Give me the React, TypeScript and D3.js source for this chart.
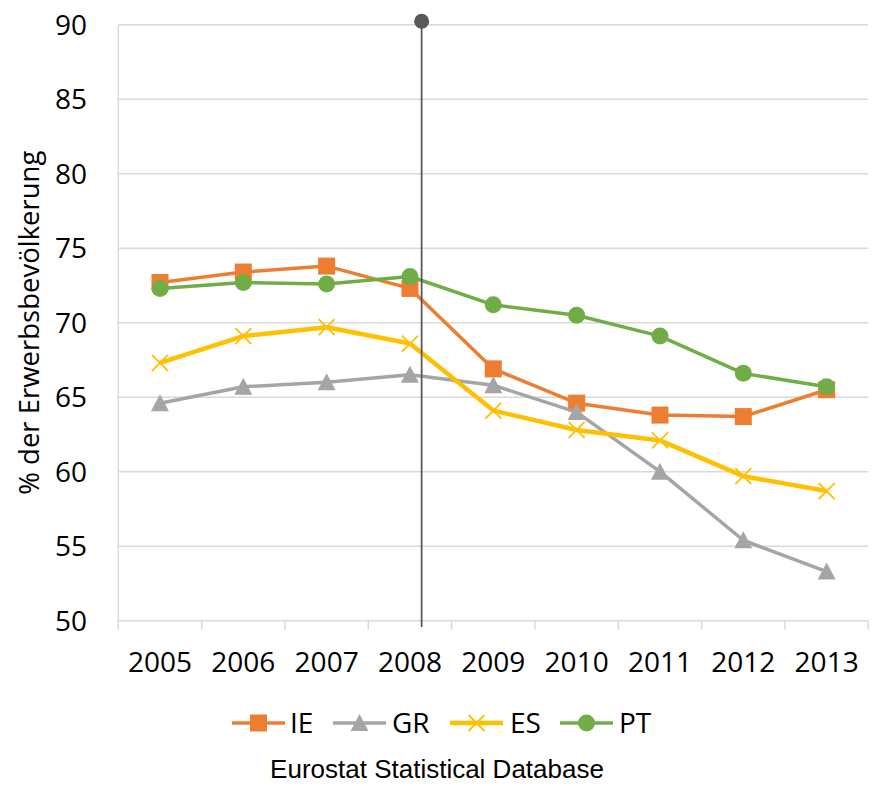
import React from "react";
import * as d3 from "d3";

const years = [2005, 2006, 2007, 2008, 2009, 2010, 2011, 2012, 2013];
const IE = [72.7, 73.4, 73.8, 72.3, 66.9, 64.6, 63.8, 63.7, 65.5];
const GR = [64.6, 65.7, 66.0, 66.5, 65.8, 64.0, 60.0, 55.4, 53.3];
const ES = [67.3, 69.1, 69.7, 68.6, 64.1, 62.8, 62.1, 59.7, 58.7];
const PT = [72.3, 72.7, 72.6, 73.1, 71.2, 70.5, 69.1, 66.6, 65.7];
const yTicks = [50, 55, 60, 65, 70, 75, 80, 85, 90];
const markerYear = 2008.14;
const yTitle = "% der Erwerbsbevölkerung";
const source = "Eurostat Statistical Database";

type Shape = "square" | "triangle" | "x" | "circle";
const series: { name: string; values: number[]; color: string; shape: Shape; width: number }[] = [
  { name: "IE", values: IE, color: "#ED7D31", shape: "square", width: 3.5 },
  { name: "GR", values: GR, color: "#A5A5A5", shape: "triangle", width: 3.5 },
  { name: "ES", values: ES, color: "#FFC000", shape: "x", width: 4.5 },
  { name: "PT", values: PT, color: "#70AD47", shape: "circle", width: 3.5 },
];

const FONT = "'Open Sans', 'Noto Sans', sans-serif";

function Marker({ shape, color, cx, cy }: { shape: Shape; color: string; cx: number; cy: number }) {
  if (shape === "square") {
    return <rect x={cx - 8.5} y={cy - 8.5} width={17} height={17} fill={color} />;
  }
  if (shape === "circle") {
    return <circle cx={cx} cy={cy} r={8.5} fill={color} />;
  }
  if (shape === "triangle") {
    return <path d={`M${cx},${cy - 9}L${cx + 9},${cy + 8}L${cx - 9},${cy + 8}Z`} fill={color} />;
  }
  return (
    <path
      d={`M${cx - 8},${cy - 8}L${cx + 8},${cy + 8}M${cx - 8},${cy + 8}L${cx + 8},${cy - 8}`}
      stroke={color}
      strokeWidth={1.8}
      fill="none"
    />
  );
}

export default function App() {
  const left = 118.3;
  const right = 868.3;
  const top = 24.7;
  const bottom = 620.7;
  const x = d3.scaleLinear().domain([2004.5, 2013.5]).range([left, right]);
  const y = d3.scaleLinear().domain([50, 90]).range([bottom, top]);
  const line = d3
    .line<number>()
    .x((_, i) => x(years[i]))
    .y((d) => y(d));
  const boundaries = d3.range(0, years.length + 1).map((i) => 2004.5 + i);

  const legendItems = [
    { lx: 232, tx: 290 },
    { lx: 333, tx: 392 },
    { lx: 450, tx: 510 },
    { lx: 560, tx: 619 },
  ];
  const legendY = 723;

  return (
    <svg
      width={875}
      height={786}
      style={{ position: "absolute", left: 0, top: 0, background: "#fff" }}
      fontFamily={FONT}
    >
      {yTicks.map((t) => (
        <line key={t} x1={left} x2={right} y1={y(t)} y2={y(t)} stroke="#D9D9D9" strokeWidth={1.5} />
      ))}
      <line x1={left} x2={left} y1={top} y2={bottom} stroke="#D9D9D9" strokeWidth={1.5} />
      {boundaries.map((b) => (
        <line key={b} x1={x(b)} x2={x(b)} y1={bottom} y2={bottom + 9} stroke="#D9D9D9" strokeWidth={1.5} />
      ))}
      {yTicks.map((t) => (
        <text key={t} x={87} y={y(t)} dy="0.36em" textAnchor="end" fontSize={28} fill="#000">
          {t}
        </text>
      ))}
      {years.map((yr) => (
        <text key={yr} x={x(yr)} y={672} textAnchor="middle" fontSize={28} fill="#000">
          {yr}
        </text>
      ))}
      <text
        transform={`translate(39, ${(top + bottom) / 2}) rotate(-90)`}
        textAnchor="middle"
        fontSize={27.5}
        fill="#000"
      >
        {yTitle}
      </text>
      {series.map((s) => (
        <g key={s.name}>
          <path d={line(s.values) || ""} fill="none" stroke={s.color} strokeWidth={s.width} strokeLinejoin="round" />
          {s.values.map((v, i) => (
            <Marker key={i} shape={s.shape} color={s.color} cx={x(years[i])} cy={y(v)} />
          ))}
        </g>
      ))}
      <line x1={x(markerYear)} x2={x(markerYear)} y1={21.3} y2={627} stroke="#595959" strokeWidth={1.8} />
      <circle cx={x(markerYear)} cy={21.3} r={7.5} fill="#595959" />
      {series.map((s, i) => {
        const it = legendItems[i];
        const mid = it.lx + 26.5;
        return (
          <g key={s.name}>
            <line x1={it.lx} x2={it.lx + 53} y1={legendY} y2={legendY} stroke={s.color} strokeWidth={s.width} />
            <Marker shape={s.shape} color={s.color} cx={mid} cy={legendY} />
            <text x={it.tx} y={legendY} dy="0.36em" fontSize={28} fill="#000">
              {s.name}
            </text>
          </g>
        );
      })}
      <text x={437} y={778} textAnchor="middle" fontSize={26} fontFamily="'Liberation Sans', Arial, sans-serif" fill="#000">
        {source}
      </text>
    </svg>
  );
}
